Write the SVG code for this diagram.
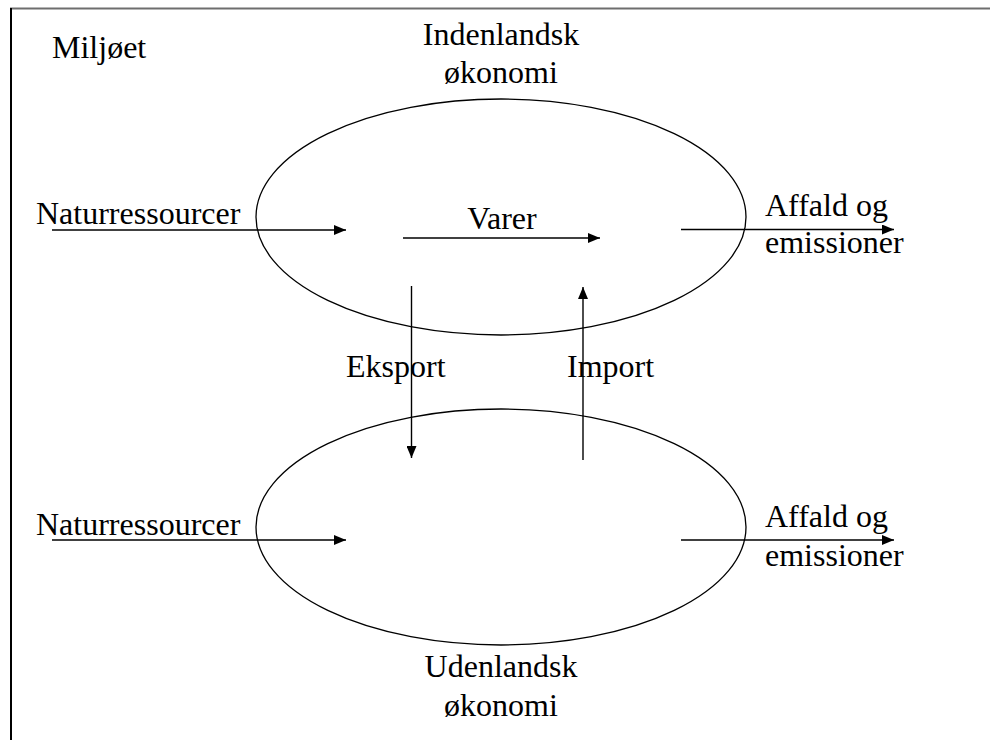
<svg xmlns="http://www.w3.org/2000/svg" width="990" height="740" viewBox="0 0 990 740">
  <style>
    text { font-family: "Liberation Serif", "Times New Roman", serif; font-size: 32px; fill: #000; }
    .mid { text-anchor: middle; }
    .econ { fill: none; stroke: #000; stroke-width: 1.3; }
    .flow { fill: none; stroke: #000; stroke-width: 1.4; marker-end: url(#head); }
  </style>
  <defs>
    <marker id="head" markerUnits="userSpaceOnUse" markerWidth="12" markerHeight="10" refX="12" refY="5" orient="auto">
      <path d="M0,0 L12,5 L0,10 z" fill="#000"/>
    </marker>
  </defs>
  <rect width="990" height="740" fill="#fff"/>

  <!-- environment frame -->
  <g id="environment">
    <line x1="10" y1="8.5" x2="990" y2="8.5" stroke="#6e6e6e" stroke-width="2"/>
    <line x1="11" y1="8" x2="11" y2="740" stroke="#000" stroke-width="2"/>
    <text x="52" y="58">Miljøet</text>
  </g>

  <!-- domestic economy -->
  <g id="domestic">
    <ellipse class="econ" cx="501" cy="217" rx="245" ry="118"/>
    <text class="mid" x="501" y="45">Indenlandsk</text>
    <text class="mid" x="501" y="83">økonomi</text>
  </g>

  <!-- foreign economy -->
  <g id="foreign">
    <ellipse class="econ" cx="501" cy="527" rx="245" ry="118"/>
    <text class="mid" x="501" y="677">Udenlandsk</text>
    <text class="mid" x="501" y="716">økonomi</text>
  </g>

  <!-- flows -->
  <g id="connectors">
    <line class="flow" x1="52" y1="230" x2="346" y2="230"/>
    <line class="flow" x1="403" y1="238" x2="600" y2="238"/>
    <line class="flow" x1="681" y1="229.5" x2="894" y2="229.5"/>
    <line class="flow" x1="411.5" y1="286" x2="411.5" y2="458"/>
    <line class="flow" x1="583" y1="460" x2="583" y2="287" stroke="#777"/>
    <line class="flow" x1="52" y1="540" x2="346" y2="540"/>
    <line class="flow" x1="681" y1="540" x2="894" y2="540"/>
  </g>

  <!-- flow labels -->
  <g id="labels">
    <text x="36" y="224">Naturressourcer</text>
    <text class="mid" x="502" y="229">Varer</text>
    <text x="765" y="216">Affald og</text>
    <text x="765" y="253">emissioner</text>
    <text x="346" y="377">Eksport</text>
    <text x="567" y="377">Import</text>
    <text x="36" y="535">Naturressourcer</text>
    <text x="765" y="527">Affald og</text>
    <text x="765" y="566">emissioner</text>
  </g>
</svg>
